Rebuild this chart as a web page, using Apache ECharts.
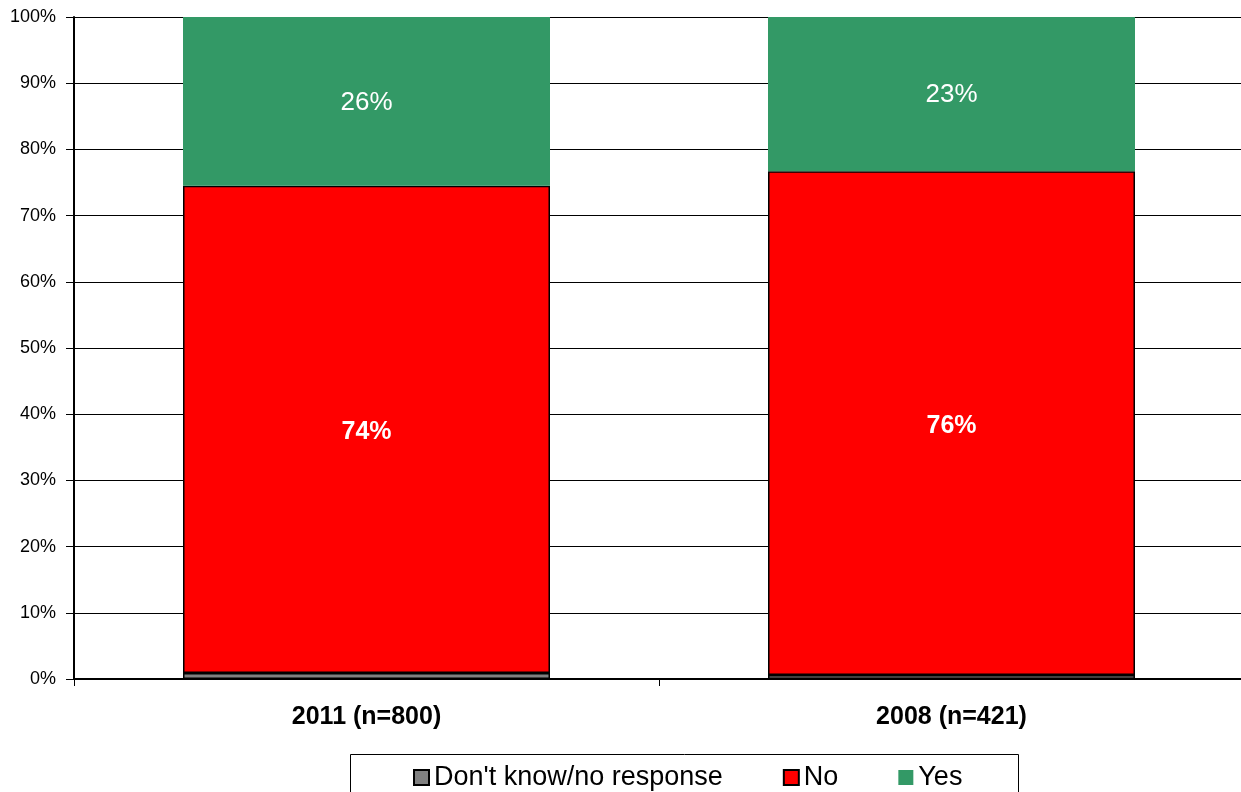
<!DOCTYPE html>
<html>
<head>
<meta charset="utf-8">
<script src="https://cdn.jsdelivr.net/npm/echarts@6/dist/echarts.min.js"></script>
<style>
html,body{margin:0;padding:0;background:#fff;overflow:hidden;}
#chart{width:1250px;height:792px;}
</style>
</head>
<body>
<div id="chart"></div>
<script>
var categories = ['2011 (n=800)', '2008 (n=421)'];
var dontKnow = [0.9, 0.6];
var no = [73.6, 76.1];
var yes = [25.5, 23.3];
var yTicks = [0, 10, 20, 30, 40, 50, 60, 70, 80, 90, 100];

var FONT = "'Liberation Sans', Arial, sans-serif";
var chart = echarts.init(document.getElementById('chart'));
function pct(p){ return Math.round(p.value) + '%'; }
chart.setOption({
  animation: false,
  backgroundColor: '#ffffff',
  textStyle: { fontFamily: FONT },
  grid: { left: 74, top: 17, right: 6, bottom: 113, containLabel: false },
  legend: {
    left: 413, top: 764, padding: 0,
    itemWidth: 15, itemHeight: 15, itemGap: 60, icon: 'rect',
    textStyle: { fontFamily: FONT, fontSize: 27, color: '#000' },
    data: ["Don't know/no response", 'No', 'Yes']
  },
  graphic: [{
    type: 'rect', silent: true,
    shape: { x: 350.5, y: 754.5, width: 668, height: 60 },
    style: { fill: 'none', stroke: '#000', lineWidth: 1 }
  }],
  xAxis: {
    type: 'category', data: categories,
    axisLine: { show: true, lineStyle: { color: '#000', width: 2 } },
    axisTick: { show: true, alignWithLabel: false, length: 7, lineStyle: { color: '#000', width: 1 } },
    axisLabel: { fontFamily: FONT, fontSize: 25, fontWeight: 'bold', color: '#000', margin: 26 }
  },
  yAxis: {
    type: 'value', min: 0, max: 100, interval: 10,
    axisLine: { show: true, lineStyle: { color: '#000', width: 2 } },
    axisTick: { show: true, length: 8, lineStyle: { color: '#000', width: 1 } },
    axisLabel: { fontFamily: FONT, fontSize: 18, color: '#000', margin: 18, formatter: '{value}%' },
    splitLine: { show: true, lineStyle: { color: '#000', width: 1 } }
  },
  series: [
    { name: "Don't know/no response", type: 'bar', stack: 'a', barWidth: 367, data: dontKnow,
      itemStyle: { color: '#808080', borderColor: '#000', borderWidth: 1.5 } },
    { name: 'No', type: 'bar', stack: 'a', barWidth: 367, data: no,
      itemStyle: { color: '#ff0000', borderColor: '#000', borderWidth: 1.5 },
      label: { show: true, position: 'inside', offset: [0, 3], formatter: pct, color: '#fff', fontSize: 25, fontWeight: 'bold', fontFamily: FONT } },
    { name: 'Yes', type: 'bar', stack: 'a', barWidth: 367, data: yes,
      itemStyle: { color: '#339966', borderWidth: 0 },
      label: { show: true, position: 'inside', offset: [0, 1], formatter: pct, color: '#fff', fontSize: 26, fontFamily: FONT } }
  ]
});
</script>
</body>
</html>
